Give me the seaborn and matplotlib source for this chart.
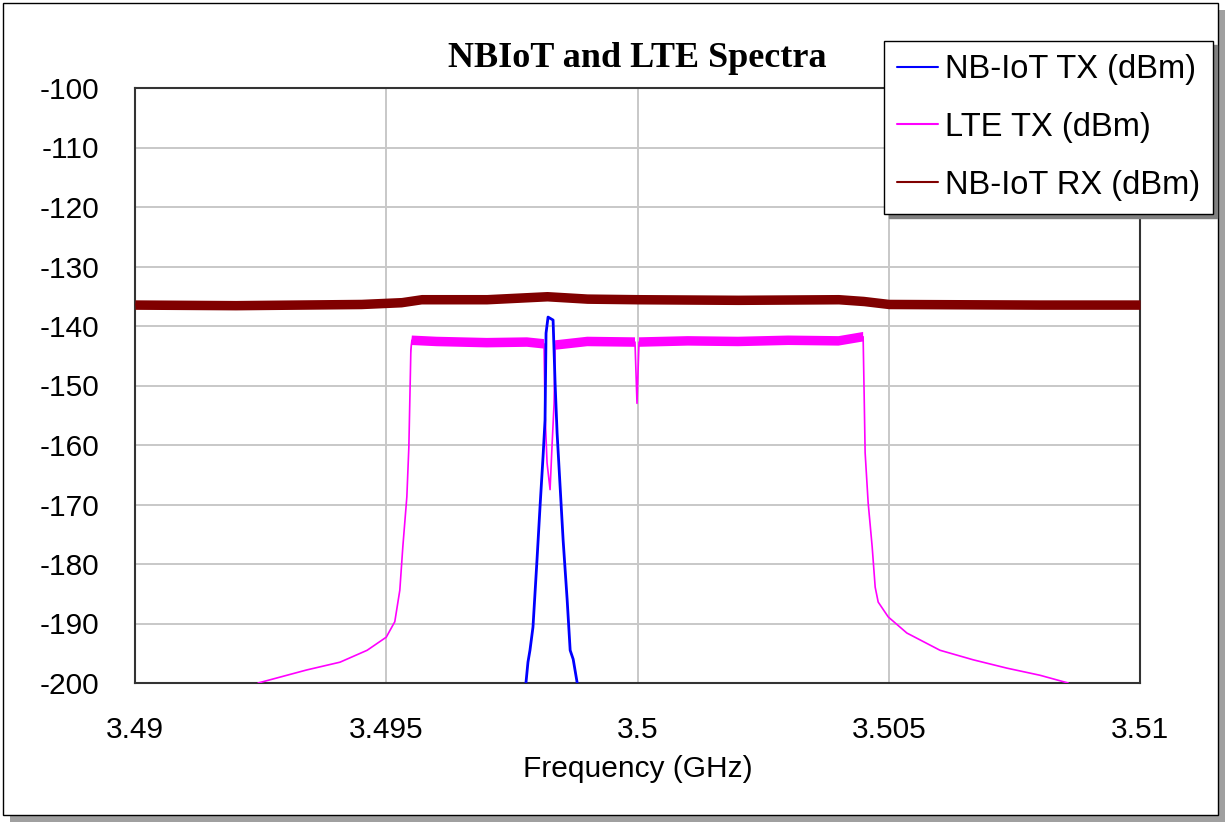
import matplotlib
matplotlib.use("Agg")
import matplotlib.pyplot as plt
import seaborn as sns
import pandas as pd
import numpy as np
from matplotlib.patches import Rectangle

# values (frequency in GHz, level in dBm)
nb_tx_freq = [3.49778, 3.49782, 3.49786, 3.49792, 3.49800, 3.49806, 3.49812, 3.49816,
              3.49818, 3.49822, 3.49828, 3.49832, 3.49836, 3.49840, 3.49846, 3.49852,
              3.49860, 3.49866, 3.49872, 3.49880]
nb_tx_dbm = [-200.0, -196.5, -194.5, -190.6, -179.3, -170.4, -162.0, -155.8,
             -141.2, -138.5, -138.8, -139.0, -149.6, -158.0, -167.0, -176.0,
             -186.0, -194.5, -196.0, -200.0]

lte_freq = [3.49245, 3.49342, 3.49408, 3.49462, 3.49500, 3.49517, 3.49527, 3.49533,
            3.49541, 3.49545, 3.49549, 3.49551, 3.49600, 3.49700, 3.49780, 3.49814,
            3.49816, 3.49820, 3.49826, 3.49830, 3.49834, 3.49836, 3.49900, 3.49995,
            3.49999, 3.50003, 3.50100, 3.50200, 3.50300, 3.50400, 3.50449, 3.50451,
            3.50453, 3.50459, 3.50467, 3.50473, 3.50479, 3.50499, 3.50536, 3.50602,
            3.50668, 3.50735, 3.50801, 3.50857]
lte_dbm = [-200.0, -197.8, -196.5, -194.5, -192.3, -189.7, -184.4, -177.1,
           -168.7, -160.3, -144.0, -142.4, -142.6, -142.8, -142.7, -143.0,
           -154.6, -163.0, -167.5, -160.0, -153.0, -143.2, -142.6, -142.7,
           -153.0, -142.7, -142.5, -142.6, -142.4, -142.5, -141.8, -151.3,
           -161.3, -169.7, -177.1, -183.9, -186.4, -188.9, -191.6, -194.5,
           -196.1, -197.5, -198.7, -200.0]

rx_freq = [3.4900, 3.4920, 3.4945, 3.4953, 3.4957, 3.4970, 3.4982, 3.4990,
           3.5000, 3.5020, 3.5040, 3.5045, 3.5050, 3.5080, 3.5100]
rx_dbm = [-136.4, -136.5, -136.3, -136.0, -135.5, -135.5, -135.0, -135.4,
          -135.5, -135.6, -135.5, -135.8, -136.3, -136.4, -136.4]

x_ticks = [3.49, 3.495, 3.5, 3.505, 3.51]
x_tick_labels = ["3.49", "3.495", "3.5", "3.505", "3.51"]
y_ticks = list(range(-200, -99, 10))

nb_tx = pd.DataFrame({"freq": nb_tx_freq, "dbm": nb_tx_dbm})
lte = pd.DataFrame({"freq": lte_freq, "dbm": lte_dbm})
rx = pd.DataFrame({"freq": rx_freq, "dbm": rx_dbm})

sns.set_theme(style="white")
plt.rcParams["font.family"] = ["Liberation Sans", "DejaVu Sans"]
plt.rcParams["axes.unicode_minus"] = False
plt.rcParams["text.color"] = "black"
plt.rcParams["axes.labelcolor"] = "black"

W, H = 1228, 824
fig = plt.figure(figsize=(W / 100, H / 100), dpi=100)
fig.patch.set_facecolor("white")

# outer frame with drop shadow
fig.patches.append(Rectangle((10 / W, 1 - 822 / H), 1215 / W, 812 / H, transform=fig.transFigure,
                             facecolor="#a0a0a0", edgecolor="none", zorder=-3))
fig.patches.append(Rectangle((3 / W, 1 - 815 / H), 1215 / W, 812 / H, transform=fig.transFigure,
                             facecolor="white", edgecolor="black", linewidth=1.0, zorder=-2))

ax = fig.add_axes([135 / W, 1 - 683 / H, 1005 / W, 595 / H])
ax.set_facecolor("white")

band = 0.8  # half width of the noise band drawn on the flat parts
sns.lineplot(data=lte, x="freq", y="dbm", ax=ax, color="#ff00ff", linewidth=1.2,
             label="LTE TX (dBm)", sort=False, estimator=None, zorder=3)
lte_arr = np.array(lte_dbm)
ax.fill_between(lte_freq, lte_arr - band, lte_arr + band, where=lte_arr > -145,
                color="#ff00ff", linewidth=0, zorder=3)
sns.lineplot(data=rx, x="freq", y="dbm", ax=ax, color="#800000", linewidth=1.2,
             label="NB-IoT RX (dBm)", sort=False, estimator=None, zorder=3)
rx_arr = np.array(rx_dbm)
ax.fill_between(rx_freq, rx_arr - band, rx_arr + band, color="#800000", linewidth=0, zorder=3)
sns.lineplot(data=nb_tx, x="freq", y="dbm", ax=ax, color="#0000ff", linewidth=2.0,
             label="NB-IoT TX (dBm)", sort=False, estimator=None, zorder=4)

ax.set_xlim(3.49, 3.51)
ax.set_ylim(-200, -100)
ax.set_xticks(x_ticks)
ax.set_xticklabels(x_tick_labels)
ax.set_yticks(y_ticks)
ax.grid(True, color="#c8c8c8", linewidth=1.4)
ax.set_axisbelow(True)
for s in ax.spines.values():
    s.set_color("#333333")
    s.set_linewidth(1.5)
ax.tick_params(axis="both", length=0, labelsize=21.5, colors="black")
ax.tick_params(axis="y", pad=26)
ax.tick_params(axis="x", pad=24)
ax.set_xlabel("Frequency (GHz)", fontsize=21.5, labelpad=8, color="black")
ax.set_ylabel("")

fig.text(637 / W, 1 - 67 / H, "NBIoT and LTE Spectra", ha="center", va="baseline", color="black",
         fontsize=26, fontweight="bold", family=["Liberation Serif", "DejaVu Serif"])

handles, labels = ax.get_legend_handles_labels()
order = [labels.index("NB-IoT TX (dBm)"), labels.index("LTE TX (dBm)"), labels.index("NB-IoT RX (dBm)")]
ax.get_legend().remove()
leg = fig.legend([handles[i] for i in order], [labels[i] for i in order],
                 loc="upper right", bbox_to_anchor=(1213 / W, 1 - 41 / H),
                 bbox_transform=fig.transFigure, borderaxespad=0, fontsize=23.5, frameon=True,
                 fancybox=False, edgecolor="black", framealpha=1,
                 handlelength=1.25, handletextpad=0.2, labelspacing=0.82, borderpad=0.4,
                 shadow={"ox": 3, "oy": -3, "color": "#808080", "alpha": 1})
leg.get_frame().set_linewidth(1.0)
for h in leg.legend_handles:
    h.set_linewidth(1.5)
for t in leg.get_texts():
    t.set_color("black")

fig.savefig("out.png", dpi=100)
